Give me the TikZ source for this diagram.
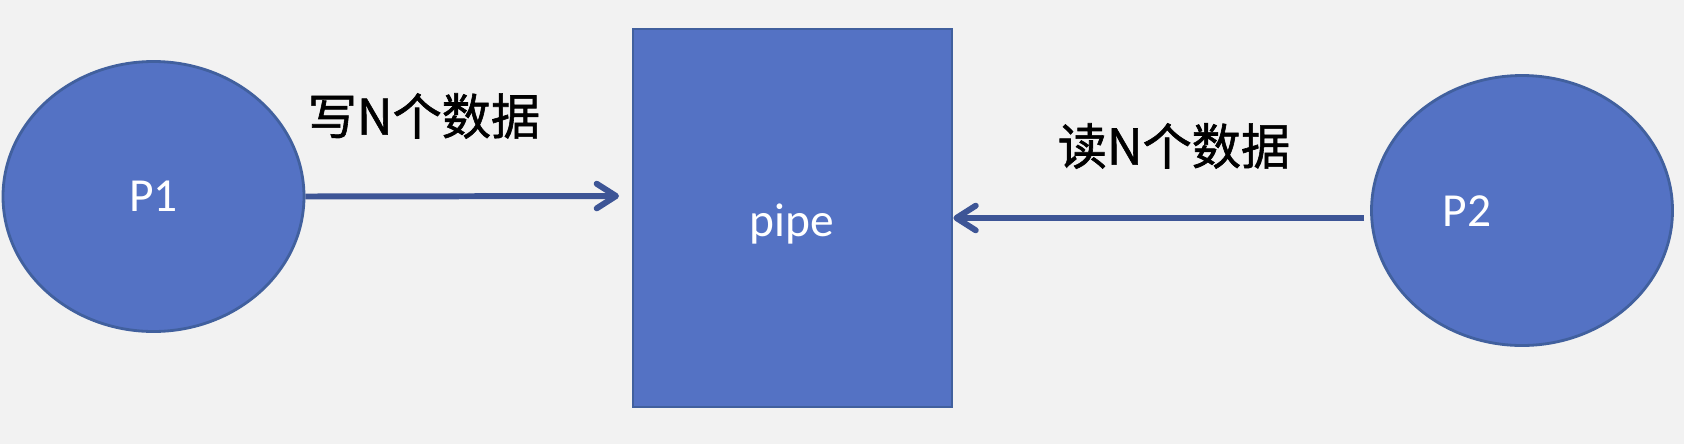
\documentclass[tikz,border=0pt]{standalone}
\usepackage{fontspec}
\setmainfont{Carlito}
\newfontfamily\cjk[FakeBold=1.2]{Noto Sans CJK SC}
\usetikzlibrary{arrows.meta,calc,shapes.geometric}
\definecolor{blobfill}{HTML}{5472C4}
\definecolor{blobline}{HTML}{41609E}
\definecolor{pipearrow}{HTML}{3D5596}
\definecolor{bgcol}{HTML}{F2F2F2}
\def\BlobWidth{6.02cm}
\def\BlobHeight{5.40cm}

\begin{document}
\begin{tikzpicture}[
    blob/.style={ellipse,fill=blobfill,draw=blobline,line width=1.6pt,
      minimum width=\BlobWidth,minimum height=\BlobHeight,inner sep=0pt},
    pipebox/.style={rectangle,fill=blobfill,draw=blobline,line width=1.6pt,
      minimum width=6.38cm,minimum height=7.56cm,inner sep=0pt},
    tag/.style={text=white,font=\fontsize{27}{32}\selectfont},
    note/.style={font=\cjk\fontsize{28}{34}\selectfont},
    flow/.style={draw=pipearrow,line width=3.4pt,
      -{Straight Barb[length=11pt,width=14pt,line cap=round,line join=round]}}
  ]
  \fill[bgcol] (0,0) rectangle (33.68,-8.88);
  \useasboundingbox (0,0) rectangle (33.68,-8.88);
  % processes and the pipe
  \node[blob] (p1) at (3.07,-3.93) {};
  \node[pipebox] (pipe) at (15.85,-4.36) {};
  \node[blob] (p2) at (30.44,-4.21) {};
  \node[tag] (p1t) at (p1) {P1};
  \node[tag] (pipet) at (15.83,-4.48) {pipe};
  \node[tag] (p2t) at (29.34,-4.23) {P2};
  %
  \coordinate (w1) at (12.38,-3.92);
  \coordinate (r2) at (27.28,-4.36);
  \draw[flow] (p1.east) -- (w1);
  \draw[flow] (r2) -- (pipe.east);
  % labels
  \node[note] (wr) at (8.48,-2.32) {写N个数据};
  \node[note] (rd) at (23.48,-2.92) {读N个数据};
\end{tikzpicture}
\end{document}
